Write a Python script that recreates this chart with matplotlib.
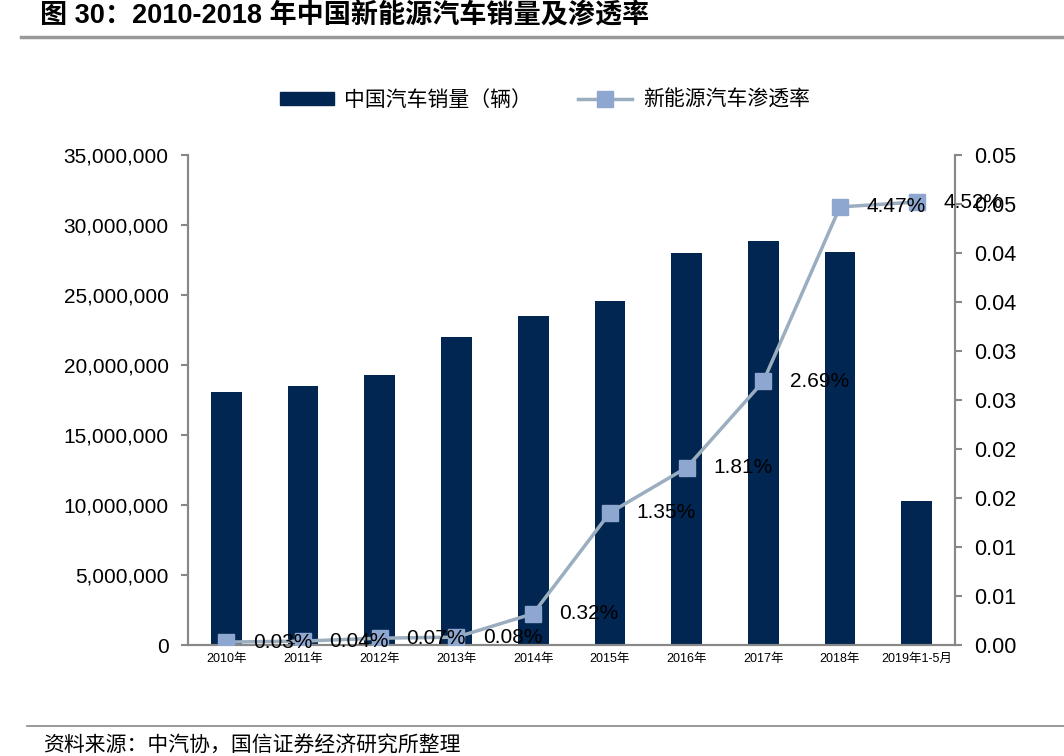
import numpy as np
import matplotlib.pyplot as plt
from matplotlib.lines import Line2D
from matplotlib.ticker import FuncFormatter

plt.rcParams['font.family'] = ['Liberation Sans', 'Noto Sans CJK SC']

# ---------------------------------------------------
# Datos
# ---------------------------------------------------
categories = ['2010年', '2011年', '2012年', '2013年', '2014年', '2015年',
              '2016年', '2017年', '2018年', '2019年1-5月']
sales = [18061900, 18505100, 19306400, 21984100, 23491900, 24597600,
         28028200, 28878900, 28080600, 10300000]
penetration = [0.0003, 0.0004, 0.0007, 0.0008, 0.0032, 0.0135,
               0.0181, 0.0269, 0.0447, 0.0452]
pen_labels = ['0.03%', '0.04%', '0.07%', '0.08%', '0.32%', '1.35%',
              '1.81%', '2.69%', '4.47%', '4.52%']
left_ticks = [0, 5000000, 10000000, 15000000, 20000000, 25000000, 30000000, 35000000]
right_ticks = [0, 0.005, 0.01, 0.015, 0.02, 0.025, 0.03, 0.035, 0.04, 0.045, 0.05]
right_tick_labels = ['0.00', '0.01', '0.01', '0.02', '0.02', '0.03',
                     '0.03', '0.04', '0.04', '0.05', '0.05']

bar_color = '#002651'
line_color = '#9AAEC0'
marker_color = '#8EA7D0'
axis_color = '#888888'

# ---------------------------------------------------
# Figura
# ---------------------------------------------------
fig = plt.figure(figsize=(10.64, 7.56), dpi=100)
ax = fig.add_axes([0.1767, 0.1468, 0.7209, 0.6482])
x = np.arange(len(categories))

ax.bar(x, sales, width=0.4, color=bar_color, zorder=2)
ax.set_xlim(-0.5, len(categories) - 0.5)
ax.set_ylim(0, 35000000)
ax.set_yticks(left_ticks)
ax.yaxis.set_major_formatter(FuncFormatter(lambda v, p: f'{int(v):,}'))
ax.set_xticks(x)
ax.set_xticklabels(categories, fontsize=9)
ax.tick_params(axis='x', length=0, pad=6)
ax.tick_params(axis='y', labelsize=15, length=5, width=1.5, color=axis_color, pad=9)

ax2 = ax.twinx()
ax2.plot(x, penetration, color=line_color, lw=2.5, marker='s', markersize=11,
         markerfacecolor=marker_color, markeredgecolor=marker_color, zorder=3)
ax2.set_ylim(0, 0.05)
ax2.set_yticks(right_ticks)
ax2.set_yticklabels(right_tick_labels)
ax2.tick_params(axis='y', labelsize=15.5, length=5, width=1.5, color=axis_color, pad=9)

# Etiquetas de datos a la derecha de cada punto
for xi, yi, lab in zip(x, penetration, pen_labels):
    ax2.annotate(lab, (xi, yi), xytext=(19, 0), textcoords='offset points',
                 fontsize=15, va='center', ha='left', zorder=4)

for a in (ax, ax2):
    a.spines['top'].set_visible(False)
    for s in ('left', 'right', 'bottom'):
        a.spines[s].set_color(axis_color)
        a.spines[s].set_linewidth(1.5)

# Leyenda
handles = [plt.Rectangle((0, 0), 1, 1, color=bar_color),
           Line2D([], [], color=line_color, lw=2.5, marker='s', markersize=11,
                  markerfacecolor=marker_color, markeredgecolor=marker_color)]
fig.legend(handles, ['中国汽车销量（辆）', '新能源汽车渗透率'], loc='center',
           bbox_to_anchor=(0.512, 0.868), ncol=2, frameon=False, fontsize=15,
           handlelength=2.6, handleheight=0.55, columnspacing=2.2, handletextpad=0.5)

# Titulo y fuente
fig.text(0.038, 0.978, '图 30：2010-2018 年中国新能源汽车销量及渗透率',
         fontsize=19.5, fontweight='bold', va='center', ha='left')
fig.add_artist(Line2D([0.02, 1.0], [0.951, 0.951], color='#999999', lw=2.5))
fig.add_artist(Line2D([0.025, 1.0], [0.040, 0.040], color='#888888', lw=1.2))
fig.text(0.04, 0.014, '资料来源：中汽协，国信证券经济研究所整理',
         fontsize=15, va='center', ha='left')

plt.savefig('out.png', facecolor='white')
plt.close()
